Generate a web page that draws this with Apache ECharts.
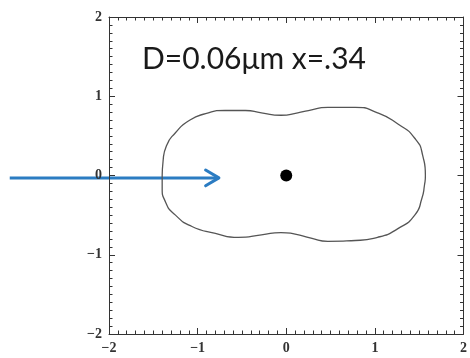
<!DOCTYPE html>
<html><head><meta charset="utf-8">
<script src="https://cdn.jsdelivr.net/npm/echarts@6/dist/echarts.min.js"></script>
<style>html,body{margin:0;padding:0;background:#fff}#c{width:470px;height:358px}</style>
</head><body><div id="c"></div>
<script>
// Scattering pattern outline
const curveX = [-1.40, -1.39, -1.35, -1.25, -1.10, -0.91, -0.69, -0.46, -0.28, -0.06, 0.13, 0.25, 0.47, 0.78, 1.03, 1.26, 1.45, 1.54, 1.57,
                1.56, 1.53, 1.45, 1.26, 1.03, 0.78, 0.47, 0.28, 0.10, -0.06, -0.28, -0.54, -0.80, -1.07, -1.25, -1.36, -1.40, -1.40];
const curveY = [0.00, 0.18, 0.38, 0.54, 0.69, 0.78, 0.82, 0.82, 0.79, 0.76, 0.79, 0.82, 0.86, 0.86, 0.79, 0.65, 0.47, 0.25, 0.00,
                -0.12, -0.29, -0.50, -0.67, -0.78, -0.82, -0.83, -0.79, -0.74, -0.72, -0.75, -0.78, -0.73, -0.64, -0.50, -0.34, -0.15, 0.00];
// Incident light arrow (data units)
const arrowX = [-3.12, -0.76];
const arrowY = [-0.03, -0.03];
const arrowHeadX = [-0.91, -0.76, -0.91];
const arrowHeadY = [0.07, -0.03, -0.13];
// Particle
const dotX = [0];
const dotY = [0];
const titleText = 'D=0.06μm x=.34';

const zip = (a, b) => a.map((v, i) => [v, b[i]]);
const fmt = v => String(v).replace('-', '\u2212');

function axis(pos, showLabel) {
  return {
    type: 'value', min: -2, max: 2, interval: 1, position: pos,
    axisLine: { show: true, onZero: false, lineStyle: { color: '#333', width: 1 } },
    axisTick: { show: true, inside: true, length: 6, lineStyle: { color: '#333' } },
    minorTick: { show: true, splitNumber: 10, length: 3.5, lineStyle: { color: '#333' } },
    splitLine: { show: false },
    minorSplitLine: { show: false },
    axisLabel: { show: showLabel, fontFamily: 'Liberation Serif', fontSize: 14, fontWeight: 'bold', color: '#333', margin: 7, formatter: fmt }
  };
}

const chart = echarts.init(document.getElementById('c'));
chart.setOption({
  animation: false,
  backgroundColor: '#fff',
  grid: { left: 109, right: 5, top: 17, bottom: 24 },
  xAxis: [axis('bottom', true), axis('top', false)],
  yAxis: [axis('left', true), axis('right', false)],
  series: [
    { type: 'line', data: zip(curveX, curveY), smooth: 0.6, showSymbol: false,
      lineStyle: { color: '#555', width: 1.3 } },
    { type: 'scatter', data: zip(dotX, dotY), symbolSize: 12, itemStyle: { color: '#000', opacity: 1 } }
  ]
});

const toPx = (xs, ys) => xs.map((x, i) => chart.convertToPixel({ xAxisIndex: 0, yAxisIndex: 0 }, [x, ys[i]]));
chart.setOption({
  graphic: [
    { type: 'text', left: 142, top: 44,
      style: { text: titleText, fontFamily: 'Lato', fontSize: 30, fill: '#1a1a1a' } },
    { type: 'polyline', shape: { points: toPx(arrowX, arrowY) },
      style: { stroke: '#2b7cc2', lineWidth: 3, fill: null } },
    { type: 'polyline', shape: { points: toPx(arrowHeadX, arrowHeadY) },
      style: { stroke: '#2b7cc2', lineWidth: 3, fill: null, lineCap: 'round', lineJoin: 'round' } }
  ]
});
</script></body></html>
